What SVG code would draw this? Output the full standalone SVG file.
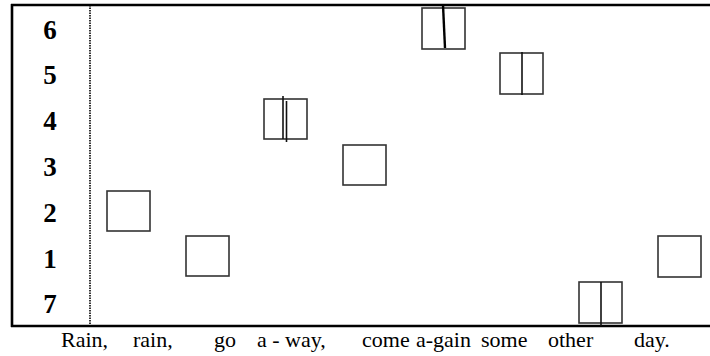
<svg xmlns="http://www.w3.org/2000/svg" width="710" height="356" viewBox="0 0 710 356">
<style>
.frame{stroke:#000;stroke-width:2.6;fill:none}
.box{fill:none;stroke:#333;stroke-width:1.6}
.bar{stroke:#111;stroke-width:1.6}
.num{font-family:'Liberation Serif',serif;font-weight:bold;font-size:27px;text-anchor:middle;fill:#000}
.lyr{font-family:'Liberation Serif',serif;font-size:22px;fill:#000}
</style>
<rect width="710" height="356" fill="#fff"/>
<g id="frame">
<line class="frame" x1="11" y1="5" x2="710" y2="5"/>
<line class="frame" x1="11" y1="326" x2="710" y2="326"/>
<line class="frame" x1="12" y1="4" x2="12" y2="327"/>
<line x1="90" y1="5" x2="90" y2="326" stroke="#000" stroke-width="1.6" stroke-dasharray="1.5,1"/>
</g>
<g id="scale">
<text class="num" x="50" y="39">6</text>
<text class="num" x="50" y="84">5</text>
<text class="num" x="50" y="130">4</text>
<text class="num" x="50" y="176">3</text>
<text class="num" x="50" y="222">2</text>
<text class="num" x="50" y="268">1</text>
<text class="num" x="50" y="313">7</text>
</g>
<g id="n-rain1"><rect class="box" x="107" y="191" width="43" height="40"/></g>
<g id="n-rain2"><rect class="box" x="186" y="236" width="43" height="40"/></g>
<g id="n-go"><rect class="box" x="264" y="99" width="43" height="40"/>
<line class="bar" x1="283" y1="96" x2="283" y2="139"/><line class="bar" x1="286.5" y1="101" x2="286.5" y2="142"/></g>
<g id="n-away"><rect class="box" x="343" y="145" width="43" height="40"/></g>
<g id="n-come"><rect class="box" x="422" y="8" width="43" height="41"/>
<line x1="443" y1="5" x2="445" y2="48" stroke="#000" stroke-width="2.4"/></g>
<g id="n-again"><rect class="box" x="500" y="53" width="43" height="41"/>
<line class="bar" x1="522" y1="52" x2="522" y2="95"/></g>
<g id="n-someother"><rect class="box" x="579" y="282" width="43" height="41"/>
<line class="bar" x1="601" y1="282" x2="601" y2="326"/></g>
<g id="n-day"><rect class="box" x="658" y="236" width="43" height="41"/></g>
<g id="lyrics">
<text class="lyr" x="61" y="347">Rain,</text>
<text class="lyr" x="133" y="347">rain,</text>
<text class="lyr" x="214" y="347">go</text>
<text class="lyr" x="257" y="347">a - way,</text>
<text class="lyr" x="362" y="347">come</text>
<text class="lyr" x="416" y="347">a-gain</text>
<text class="lyr" x="481" y="347">some</text>
<text class="lyr" x="548" y="347">other</text>
<text class="lyr" x="634" y="347">day.</text>
</g>
</svg>
